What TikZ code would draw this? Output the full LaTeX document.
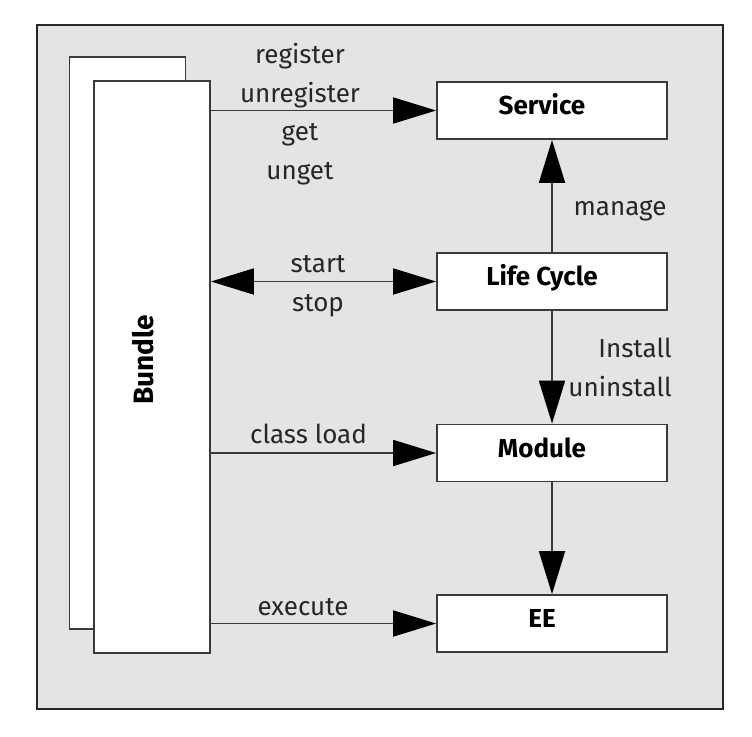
\documentclass[tikz,border=0pt]{standalone}
\usepackage{fontspec}
\setmainfont{Fira Sans}
\usepackage{xcolor}
\definecolor{panel}{HTML}{E4E4E4}
\definecolor{rim}  {HTML}{3A3A3A}
\definecolor{ink}  {HTML}{262626}
\usetikzlibrary{arrows.meta, positioning}

\begin{document}
\begin{tikzpicture}[x=1pt, y=-1pt,
    box/.style={rectangle, draw=rim, line width=1.8pt, fill=white,
                minimum width=230pt, minimum height=57pt, inner sep=0pt,
                text height=18pt, text depth=10pt,
                font=\fontsize{26}{30}\selectfont\bfseries,
                execute at end node=\hspace*{20pt}},
    sheet/.style={rectangle, draw=rim, line width=1.8pt, fill=white,
                  minimum width=116pt, minimum height=572pt, inner sep=0pt},
    lbl/.style={anchor=base, inner sep=0pt, text=ink,
                font=\fontsize{26}{30}\selectfont},
    link/.style={line width=1.8pt, draw=rim,
                 -{Triangle[length=43pt, width=26pt, color=black]}},
    dlink/.style={line width=1.8pt, draw=rim,
                  {Triangle[length=43pt, width=26pt, color=black]}-{Triangle[length=43pt, width=26pt, color=black]}}]

    \useasboundingbox (0,0) rectangle (752,736);
    \draw[fill=panel, draw=black!85, line width=2pt] (37,25) rectangle (723,709);

    % --- the bundle, with a second sheet behind it
    \node[sheet] (back) at (127.5,343) {};
    \node[sheet] (bundle) at (152,367) {};
    \node[rotate=90, inner sep=0pt, font=\fontsize{28}{32}\selectfont\bfseries]
        (bundletxt) at (143,360) {Bundle};

    % --- framework layers
    \node[box] (service)   at (552,110.5) {Service};
    \node[box] (lifecycle) at (552,281.5) {Life Cycle};
    \node[box] (module)    at (552,453)   {Module};
    \node[box] (ee)        at (552,623.5) {EE};

    % --- bundle to layers
    \draw[link]  (bundle.east |- service)   -- (service.west);
    \draw[dlink] (bundle.east |- lifecycle) -- (lifecycle.west);
    \draw[link]  (bundle.east |- module)    -- (module.west);
    \draw[link]  (bundle.east |- ee)        -- (ee.west);

    % --- between layers
    \draw[link] (lifecycle) -- (service);
    \draw[link] (lifecycle) -- (module);
    \draw[link] (module)    -- (ee);

    % --- labels
    \node[lbl] (register)   at (300,63)  {register};
    \node[lbl] (unregister) at (300,102) {unregister};
    \node[lbl] (get)        at (300,140) {get};
    \node[lbl] (unget)      at (300,179) {unget};
    \node[lbl] (start)      at (318,272) {start};
    \node[lbl] (stop)       at (318,311) {stop};
    \node[lbl] (manage)     at (620,215) {manage};
    \node[lbl, anchor=base east] (install)   at (672,357) {Install};
    \node[lbl, anchor=base east] (uninstall) at (672,396) {uninstall};
    \node[lbl] (classload)  at (308.5,443) {class load};
    \node[lbl] (execute)    at (303,615) {execute};
\end{tikzpicture}
\end{document}
